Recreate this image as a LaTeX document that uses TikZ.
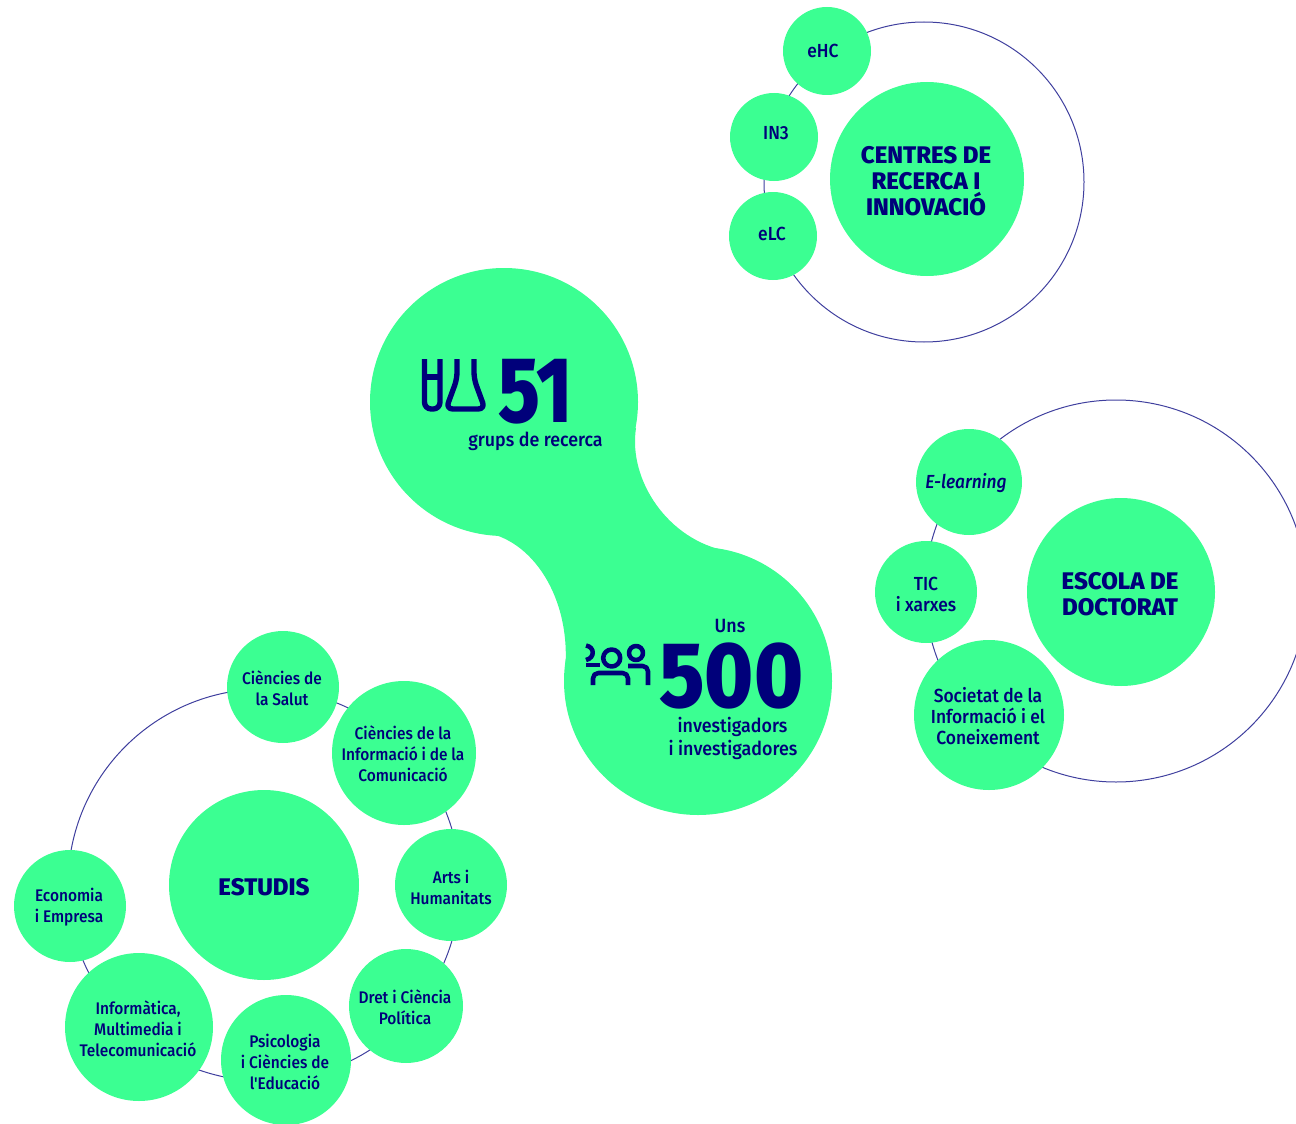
\documentclass[tikz,border=0pt]{standalone}
\usepackage{fontspec}
\setmainfont{Fira Sans Medium}[ItalicFont=Fira Sans Medium Italic]
\newfontfamily\heavy{Fira Sans ExtraBold}
\definecolor{mint}{HTML}{3BFF92}
\definecolor{navy}{HTML}{00007A}
\definecolor{ring}{HTML}{3F3F9E}
\tikzset{
 disc/.style={circle,fill=mint,inner sep=0pt,minimum size=#1*0.75pt},
 txt/.style={text=navy,align=center,inner sep=0pt,font=\fontsize{12.6}{15.75}\selectfont\addfontfeature{FakeStretch=0.92}},
 txtb/.style={text=navy,align=center,inner sep=0pt,font=\fontsize{14.2}{15.75}\selectfont\addfontfeature{FakeStretch=0.92}},
 htxt/.style={text=navy,align=center,inner sep=0pt,font=\heavy\fontsize{18}{19.5}\selectfont},
 orbit/.style={circle,draw=ring,line width=0.75pt,inner sep=0pt,minimum size=#1*0.75pt},
 icon/.style={draw=navy,line width=#1,line cap=butt,line join=round},
 lab/.style={text=navy,align=center,inner sep=0pt,font=\fontsize{14.4}{18}\selectfont\addfontfeature{FakeStretch=0.93}},
 num/.style={text=navy,inner sep=0pt,font=\heavy\fontsize{70}{70}\selectfont\addfontfeature{FakeStretch=#1}}
}
\begin{document}
\begin{tikzpicture}[x=0.75pt,y=-0.75pt]
\useasboundingbox (0,0) rectangle (1296,1124);
% rings
\node[orbit=320] (r1) at (924,182) {};
\node[orbit=382] (r2) at (1116,591) {};
\node[orbit=392] (r3) at (264,885) {};
% central blob
\node[disc=268] (b1) at (504,402) {};
\node[disc=268] (b2) at (698,681) {};
\fill[mint] (636,428) .. controls (628,480) and (668,540) .. (727,551) -- (640,690) -- (565,672)
  .. controls (572,598) and (532,538) .. (482,532) -- (500,400) -- cycle;
% group 1
\node[disc=194] (c1) at (927,179) {};
\node[disc=88] (a1) at (827,51) {};
\node[disc=88] (a2) at (774,137) {};
\node[disc=88] (a3) at (773,236) {};
\node[htxt] (c1t) at (926,181) {CENTRES DE\\RECERCA I\\INNOVACIÓ};
\node[txtb] (a1t) at (823,51) {eHC};
\node[txtb] (a2t) at (776,133) {IN3};
\node[txtb] (a3t) at (772,234) {eLC};
% group 2
\node[disc=188] (c2) at (1121,592) {};
\node[disc=106] (d1) at (969,482) {};
\node[disc=102] (d2) at (926,592) {};
\node[disc=150] (d3) at (989,715) {};
\node[htxt] (c2t) at (1120,594.5) {ESCOLA DE\\DOCTORAT};
\node[txtb] (d1t) at (966,483) {\itshape E-learning};
\node[txtb] (d2t) at (926,594) {TIC\\i xarxes};
\node[txtb] (d3t) at (988,716.5) {Societat de la\\Informació i el\\Coneixement};
% group 3
\node[disc=190] (c3) at (264,885) {};
\node[disc=112] (e1) at (283,687) {};
\node[disc=144] (e2) at (404,753) {};
\node[disc=112] (e3) at (451,885) {};
\node[disc=114] (e4) at (406,1006) {};
\node[disc=130] (e5) at (286,1060) {};
\node[disc=148] (e6) at (139,1027) {};
\node[disc=112] (e7) at (70,906) {};
\node[htxt] (c3t) at (264,887) {ESTUDIS};
\node[txt] (e1t) at (282,688.5) {Ciències de\\la Salut};
\node[txt] (e2t) at (403,754) {Ciències de la\\Informació i de la\\Comunicació};
\node[txt] (e3t) at (451,887) {Arts i\\Humanitats};
\node[txt] (e4t) at (405,1007.5) {Dret i Ciència\\Política};
\node[txt] (e5t) at (285,1061.5) {Psicologia\\i Ciències de\\\addfontfeature{Ligatures=TeXOff}l'Educació};
\node[txt] (e6t) at (138,1028.5) {Informàtica,\\Multimedia i\\Telecomunicació};
\node[txt] (e7t) at (69,907.5) {Economia\\i Empresa};
% central texts
\node[num=0.82,anchor=base] (n51) at (535.5,422) {51};
\node[lab,anchor=base] (t51) at (535.5,446) {grups de recerca};
\node[lab,anchor=base] (tu) at (730,632) {Uns};
\node[num=0.89,anchor=base] (n500) at (731.5,707) {500};
\node[lab,anchor=base] (t500a) at (732.5,732) {investigadors};
\node[lab,anchor=base] (t500b) at (733,755.5) {i investigadores};
% flask icons
\draw[icon=4pt,rounded corners=5pt] (424.5,359) -- (424.5,409) -- (440,409) -- (440,359);
\draw[icon=4pt] (424.5,377) -- (440,377);
\draw[icon=4pt,rounded corners=5pt] (457,359) -- (457,379) -- (446,409) -- (485,409) -- (474,379) -- (474,359);
% people icons
\draw[icon=3.4pt] (611.7,658) circle[radius=8.5];
\draw[icon=3.4pt] (636,653) circle[radius=7];
\draw[icon=3.4pt] (586,645.5) .. controls (595,647) and (595,658) .. (586,660);
\draw[icon=3.4pt] (586,665) -- (600,665);
\draw[icon=3.4pt,rounded corners=4pt] (593,685) -- (593,673) -- (628,673) -- (628,685);
\draw[icon=3.4pt,rounded corners=4pt] (628,666) -- (648,666) -- (648,685);
\end{tikzpicture}
\end{document}
